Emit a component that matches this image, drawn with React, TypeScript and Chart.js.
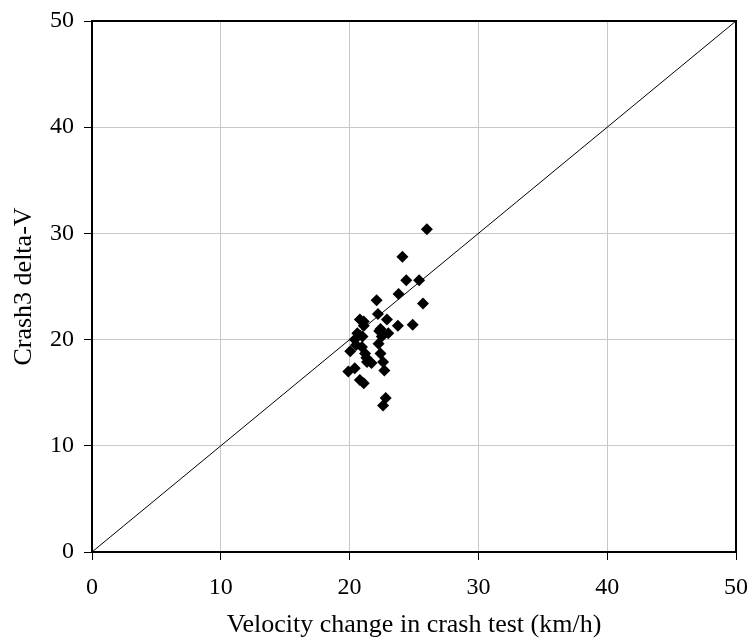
import React, { useEffect, useRef } from "react";
import { Chart, registerables } from "chart.js";

Chart.register(...registerables);

const testVelocity = [26.0, 24.1, 24.4, 25.4, 23.8, 22.1, 25.7, 22.2, 20.8, 21.1, 22.9, 21.1, 23.75, 24.9, 22.4, 23.0, 22.5, 20.6, 21.0, 20.4, 22.25, 20.05, 20.96, 21.2, 22.4, 20.5, 21.35, 22.6, 21.7, 22.7, 19.9, 20.4, 20.8, 21.1, 22.8, 22.6, 21.3, 22.3];
const crash3Velocity = [30.4, 27.8, 25.6, 25.6, 24.3, 23.7, 23.4, 22.4, 21.9, 21.7, 21.9, 21.3, 21.3, 21.4, 21.0, 20.6, 20.3, 20.6, 20.3, 20.0, 19.6, 18.9, 19.3, 18.7, 18.7, 19.5, 17.9, 17.9, 17.8, 17.1, 17.0, 17.3, 16.2, 15.9, 14.5, 13.8, 18.3, 20.8];
const equalityLine = [0, 50];
const axisMin = 0;
const axisMax = 50;
const axisStep = 10;

const font = "'Liberation Serif', 'Times New Roman', serif";

export default function App() {
  const ref = useRef<HTMLCanvasElement | null>(null);
  useEffect(() => {
    if (!ref.current) return;
    const frame = {
      id: "frame",
      afterDatasetsDraw(chart: any) {
        const { ctx, chartArea: a } = chart;
        ctx.save();
        ctx.strokeStyle = "#000";
        ctx.lineWidth = 2;
        ctx.strokeRect(a.left, a.top, a.right - a.left, a.bottom - a.top);
        ctx.restore();
      },
    };
    const chart = new Chart(ref.current, {
      type: "scatter",
      data: {
        datasets: [
          {
            type: "line",
            data: equalityLine.map((v) => ({ x: v, y: v })),
            borderColor: "#000",
            borderWidth: 1,
            pointRadius: 0,
            fill: false,
          } as any,
          {
            data: testVelocity.map((x, i) => ({ x, y: crash3Velocity[i] })),
            pointStyle: "rectRot",
            pointRadius: 6,
            backgroundColor: "#000",
            borderColor: "#000",
            borderWidth: 0,
          },
        ],
      },
      options: {
        animation: false,
        responsive: false,
        plugins: { legend: { display: false }, tooltip: { enabled: false } },
        layout: { padding: { left: 0, right: 15, top: 21, bottom: 0 } },
        scales: {
          x: {
            type: "linear",
            min: axisMin,
            max: axisMax,
            ticks: { stepSize: axisStep, color: "#000", font: { family: font, size: 24 }, padding: 13 },
            grid: { color: "#c8c8c8", tickColor: "#000", tickLength: 8, lineWidth: 1 },
            border: { color: "#000", width: 2 },
            title: { display: true, text: "Velocity change in crash test (km/h)", color: "#000", font: { family: font, size: 26 }, padding: { top: 0, bottom: 0 } },
            afterFit: (s: any) => { s.height = 89; s.paddingLeft = 0; s.paddingRight = 0; },
          },
          y: {
            type: "linear",
            min: axisMin,
            max: axisMax,
            ticks: { stepSize: axisStep, color: "#000", font: { family: font, size: 24 }, padding: 10 },
            grid: { color: "#c8c8c8", tickColor: "#000", tickLength: 8, lineWidth: 1 },
            border: { color: "#000", width: 2 },
            title: { display: true, text: "Crash3 delta-V", color: "#000", font: { family: font, size: 26 }, padding: { top: 9, bottom: 0 } },
            afterFit: (s: any) => { s.width = 92; s.paddingTop = 0; s.paddingBottom = 0; },
          },
        },
      },
      plugins: [frame],
    });
    return () => chart.destroy();
  }, []);
  return (
    <canvas
      ref={ref}
      width={751}
      height={641}
      style={{ position: "fixed", left: 0, top: 0, width: 751, height: 641, background: "#fff" }}
    />
  );
}
